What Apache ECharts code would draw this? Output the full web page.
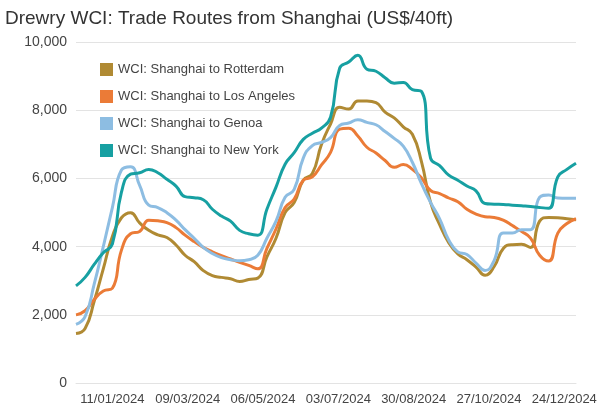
<!DOCTYPE html>
<html>
<head>
<meta charset="utf-8">
<script src="https://cdn.jsdelivr.net/npm/echarts@6/dist/echarts.min.js"></script>
<style>
html,body{margin:0;padding:0;background:#fff;}
#chart{width:600px;height:406px;}
</style>
</head>
<body>
<div id="chart"></div>
<script>
var weeks = ['2023-12-14','2023-12-21','2023-12-28','2024-01-04','2024-01-11','2024-01-18','2024-01-25',
 '2024-02-01','2024-02-08','2024-02-15','2024-02-22','2024-02-29','2024-03-07','2024-03-14','2024-03-21','2024-03-28',
 '2024-04-04','2024-04-11','2024-04-18','2024-04-25','2024-05-02','2024-05-09','2024-05-16','2024-05-23','2024-05-30',
 '2024-06-06','2024-06-13','2024-06-20','2024-06-27','2024-07-04','2024-07-11','2024-07-18','2024-07-25',
 '2024-08-01','2024-08-08','2024-08-15','2024-08-22','2024-08-29','2024-09-05','2024-09-12','2024-09-19','2024-09-26',
 '2024-10-03','2024-10-10','2024-10-17','2024-10-24','2024-10-31','2024-11-07','2024-11-14','2024-11-21','2024-11-28',
 '2024-12-05','2024-12-12','2024-12-19','2024-12-26','2025-01-02'];

var rotterdam = [1450,1600,2400,3350,4300,4850,5000,4700,4480,4350,4270,4050,3750,3560,3300,3150,
 3100,3060,2980,3040,3080,3700,4250,5000,5300,5950,6150,7000,7600,8090,8040,8280,8280,8230,7950,7780,7520,7300,
 6500,5300,4650,4120,3790,3620,3400,3160,3420,3950,4060,4070,3980,4750,4860,4850,4820,4790];

var losAngeles = [2000,2120,2450,2700,2780,3900,4380,4450,4780,4760,4710,4560,4340,4150,3980,3850,
 3740,3640,3540,3450,3350,3950,4520,5150,5400,5950,6050,6400,6770,7450,7480,7250,6920,6750,6530,6330,6410,6270,
 6020,5650,5560,5430,5320,5100,4960,4880,4860,4780,4620,4450,4250,3750,3580,4400,4680,4820];

var genoa = [1720,1950,2900,4000,5150,6250,6350,5800,5220,5150,5000,4780,4500,4250,3980,3800,
 3680,3620,3590,3620,3750,4250,4750,5450,5680,6600,6970,7060,7200,7560,7630,7730,7650,7580,7380,7180,6950,6480,
 5850,5300,4820,4200,3850,3770,3520,3300,3600,4400,4400,4500,4500,5450,5520,5430,5420,5420];

var newYork = [2850,3100,3480,3820,4080,5600,6130,6170,6270,6170,5980,5780,5470,5440,5380,5100,
 4900,4750,4480,4380,4340,5100,5750,6420,6760,7150,7330,7480,7800,9240,9420,9620,9210,9150,8960,8800,8820,8610,
 8560,6600,6380,6100,5950,5780,5640,5270,5250,5240,5220,5200,5180,5150,5130,6050,6270,6450];

var xTickDates = ['2024-01-11','2024-03-09','2024-05-06','2024-07-03','2024-08-30','2024-10-27','2024-12-24'];

var seriesNames = ['WCI: Shanghai to Rotterdam','WCI: Shanghai to Los Angeles','WCI: Shanghai to Genoa','WCI: Shanghai to New York'];
var seriesColors = ['#B08A33','#EB7B37','#8DBDE2','#17A0A2'];

var DAY = 86400000;
function utc(s){ var p = s.split('-'); return Date.UTC(+p[0], +p[1]-1, +p[2]); }
var origin = utc(weeks[0]);
function dayOf(s){ return Math.round((utc(s) - origin) / DAY); }
function pad(n){ return (n<10?'0':'')+n; }
function pairs(vals){ return weeks.map(function(d,i){ return [dayOf(d), vals[i]]; }); }

var allVals = [rotterdam, losAngeles, genoa, newYork];
var chart = echarts.init(document.getElementById('chart'), null, {renderer:'canvas'});
var FONT = 'Liberation Sans, Arial, Helvetica, sans-serif';

chart.setOption({
  animation: false,
  backgroundColor: '#ffffff',
  title: {
    text: 'Drewry WCI: Trade Routes from Shanghai (US$/40ft)',
    left: 0, top: 4,
    textStyle: {fontFamily: FONT, fontSize: 19, fontWeight: 'normal', color: '#333333'}
  },
  legend: {
    orient: 'vertical',
    left: 95, top: 58,
    itemWidth: 13, itemHeight: 13, itemGap: 14,
    icon: 'rect',
    data: seriesNames,
    textStyle: {fontFamily: FONT, fontSize: 13, color: '#444444'}
  },
  grid: {left: 76, right: 24, top: 42.3, bottom: 21.7, containLabel: false},
  xAxis: {
    type: 'value',
    min: 0,
    max: dayOf(weeks[weeks.length-1]),
    axisLine: {show: true, lineStyle: {color: '#e3e3e3', width: 1}},
    axisTick: {show: false},
    splitLine: {show: false},
    axisLabel: {
      customValues: xTickDates.map(dayOf),
      margin: 10,
      fontFamily: FONT, fontSize: 13, color: '#444444',
      hideOverlap: false,
      formatter: function(v){ var d = new Date(origin + v * DAY); return pad(d.getUTCDate())+'/'+pad(d.getUTCMonth()+1)+'/'+d.getUTCFullYear(); }
    }
  },
  yAxis: {
    type: 'value',
    min: 0, max: 10000, interval: 2000,
    axisLine: {show: false},
    axisTick: {show: false},
    splitLine: {lineStyle: {color: '#e3e3e3', width: 1}},
    axisLabel: {
      margin: 9,
      fontFamily: FONT, fontSize: 14, color: '#444444',
      formatter: function(v){ return v.toString().replace(/\B(?=(\d{3})+(?!\d))/g, ','); }
    }
  },
  series: seriesNames.map(function(n, i){
    return {
      name: n, type: 'line',
      data: pairs(allVals[i]),
      showSymbol: false, symbol: 'none',
      smooth: 0.5,
      color: seriesColors[i],
      itemStyle: {color: seriesColors[i]},
      lineStyle: {width: 3, color: seriesColors[i]}
    };
  })
});
</script>
</body>
</html>
